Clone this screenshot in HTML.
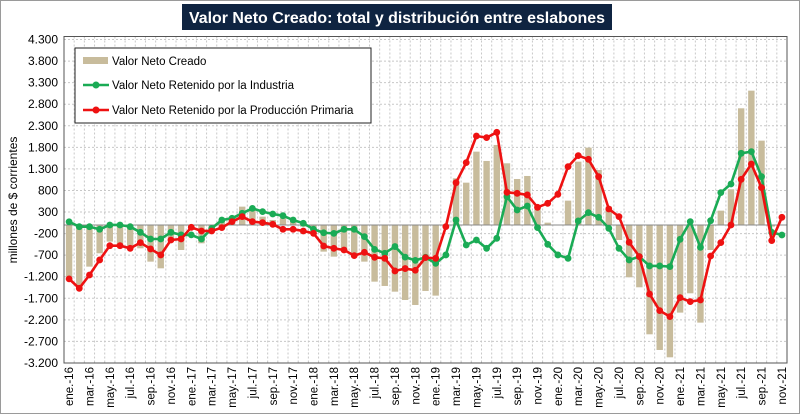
<!DOCTYPE html>
<html><head><meta charset="utf-8"><style>
html,body{margin:0;padding:0;background:#fff;}
svg{display:block;font-family:"Liberation Sans",sans-serif;}
</style></head><body>
<svg id="chart" width="800" height="414" viewBox="0 0 800 414">
<rect x="0.5" y="0.5" width="799" height="413" fill="#fff" stroke="#9a9a9a"/>
<rect x="182" y="4" width="430" height="26" fill="#0f2441"/>
<text x="397" y="23" text-anchor="middle" fill="#fff" font-size="16" font-weight="bold" textLength="416" lengthAdjust="spacingAndGlyphs">Valor Neto Creado: total y distribución entre eslabones</text>
<g id="grid"></g><g id="bars"></g><g id="lines"></g><g id="axes"></g>
<text transform="translate(17,200) rotate(-90)" text-anchor="middle" font-size="12" fill="#000">millones de $ corrientes</text>
<g>
<rect x="75" y="48" width="296" height="75" fill="#fff" stroke="#222"/>
<rect x="83" y="57" width="25" height="7" fill="#c8bc9c"/>
<text x="112" y="65" font-size="11.5">Valor Neto Creado</text>
<line x1="83" y1="85" x2="109" y2="85" stroke="#1aab55" stroke-width="2.5"/>
<circle cx="96" cy="85" r="3.5" fill="#1aab55"/>
<text x="112" y="89" font-size="11.5">Valor Neto Retenido por la Industria</text>
<line x1="83" y1="110" x2="109" y2="110" stroke="#ee1111" stroke-width="2.5"/>
<circle cx="96" cy="110" r="3.5" fill="#ee1111"/>
<text x="112" y="114" font-size="11.5">Valor Neto Retenido por la Producción Primaria</text>
</g>
</svg>
<script>
const monthNames=["ene.","feb.","mar.","abr.","may.","jun.","jul.","ago.","sep.","oct.","nov.","dic."];
const categories=[];
for(let y=16;y<=21;y++){for(let m=0;m<12;m++){if(y===21&&m>10)break;categories.push(monthNames[m]+"-"+y);}}
const yTicks=[-3200,-2700,-2200,-1700,-1200,-700,-200,300,800,1300,1800,2300,2800,3300,3800,4300];
const yTickLabels=["-3.200","-2.700","-2.200","-1.700","-1.200","-700","-200","300","800","1.300","1.800","2.300","2.800","3.300","3.800","4.300"];
const valorNetoCreado=[-1200,-1500,-966,-657,-386,-464,-502,-541,-850,-1005,-348,-580,-116,-425,-39,116,193,425,386,193,116,155,77,-39,-116,-618,-734,-580,-734,-850,-1314,-1414,-1546,-1739,-1855,-1530,-1638,-50,1082,981,1700,1484,1855,1430,1066,1136,425,54,0,564,1468,1793,1275,425,-348,-1213,-1445,-2535,-2898,-3068,-2032,-1584,-2264,-580,332,827,2705,3114,1955,-39,0];
const industria=[75,-40,-40,-100,0,0,-40,-170,-325,-325,-170,-230,-230,-325,-80,115,155,270,385,310,255,215,115,40,-100,-180,-195,-100,-100,-270,-565,-655,-500,-745,-820,-750,-889,-695,116,-464,-348,-541,-309,657,348,440,-62,-448,-695,-773,93,286,178,-77,-541,-811,-734,-950,-950,-966,-332,77,-518,100,750,950,1661,1700,1120,-170,-232];
const primaria=[-1250,-1468,-1160,-811,-480,-480,-541,-410,-556,-695,-348,-325,-54,-139,-139,-62,77,193,77,54,15,-100,-100,-139,-193,-487,-541,-580,-711,-634,-750,-773,-1066,-1010,-1050,-757,-773,-39,981,1445,2063,2025,2148,757,734,696,410,502,711,1352,1607,1522,1120,371,193,-402,-734,-1600,-1986,-2125,-1685,-1777,-1739,-719,-410,0,1059,1414,866,-363,178];
const NS="http://www.w3.org/2000/svg";
const L=64,R=787,T=39.5,B=363,yMin=-3200,yMax=4300;
const n=categories.length,bw=(R-L)/n;
const xS=i=>L+bw*(i+0.5);
const yS=v=>B-(v-yMin)/(yMax-yMin)*(B-T);
function mk(tag,attrs,parent){const e=document.createElementNS(NS,tag);for(const k in attrs)e.setAttribute(k,attrs[k]);parent.appendChild(e);return e;}
const grid=document.getElementById("grid"),bars=document.getElementById("bars"),lines=document.getElementById("lines"),axes=document.getElementById("axes");
mk("rect",{x:L,y:T-3,width:R-L,height:B-T+3,fill:"#fff",stroke:"none"},grid);
yTicks.forEach((v,k)=>{
 const g=mk("line",{x1:L,x2:R,y1:yS(v),y2:yS(v),stroke:"#c8c8c8","stroke-dasharray":"2,2","stroke-width":1},grid);
 
 
 const t=mk("text",{x:L-6,y:yS(v)+4,"text-anchor":"end","font-size":12},axes);
 t.textContent=yTickLabels[k];
 
 
});
for(let i=0;i<=n;i++){
 const g=mk("line",{x1:L+bw*i,x2:L+bw*i,y1:T-3,y2:B,stroke:"#c8c8c8","stroke-dasharray":"2,2","stroke-width":1},grid);
 
 
}
valorNetoCreado.forEach((v,i)=>{
 const y0=yS(0),y1=yS(v);
 const r=mk("rect",{x:xS(i)-3.2,y:Math.min(y0,y1),width:6.4,height:Math.abs(y1-y0),fill:"#c8bc9c"},bars);
 
 
});
const zl=mk("line",{x1:L,x2:R,y1:yS(0),y2:yS(0),stroke:"#888","stroke-width":1},bars);


function series(vals,color,name){
 const p=mk("polyline",{points:vals.map((v,i)=>xS(i)+","+yS(v)).join(" "),fill:"none",stroke:color,"stroke-width":2.6,"stroke-linejoin":"round"},lines);
 
 
 vals.forEach((v,i)=>{
  const c=mk("circle",{cx:xS(i),cy:yS(v),r:3.4,fill:color},lines);
  
  
 });
}
series(industria,"#1aab55","industria");
series(primaria,"#ee1111","primaria");
const frame=mk("rect",{x:L,y:T-3,width:R-L,height:B-T+3,fill:"none",stroke:"#555","stroke-width":1},axes);


categories.forEach((c,i)=>{
 if(i%2!==0)return;
 const x=xS(i)+4,y=B+4;
 const t=mk("text",{x:x,y:y,"text-anchor":"end","font-size":11.5,transform:"rotate(-90 "+x+" "+y+")"},axes);
 t.textContent=c;
 
 
});
</script>
</body></html>
